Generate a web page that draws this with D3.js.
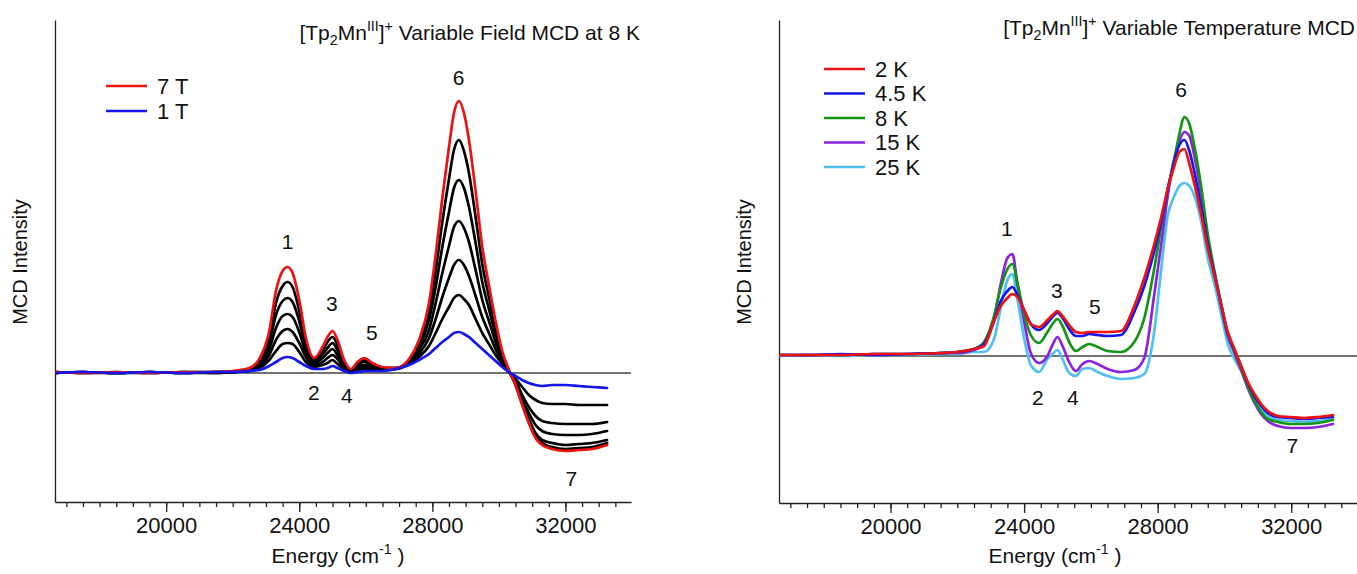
<!DOCTYPE html>
<html>
<head>
<meta charset="utf-8" />
<title>MCD spectra</title>
<script src="https://d3js.org/d3.v7.min.js"></script>
<style>
  body { margin: 0; background: #fff; }
  svg text { font-family: "Liberation Sans", Arial, sans-serif; fill: #111; }
  .axis path, .axis line { stroke: #222; stroke-width: 1.3px; }
  .axis text { font-size: 22px; }
  .trace { fill: none; stroke-width: 2.7px; stroke-linejoin: round; stroke-linecap: round; }
</style>
</head>
<body>
<script>
// energy grid (cm-1) shared by all traces
const energy = [16700, 17500, 18500, 19500, 20500, 21500, 22000, 22500, 22800, 23100, 23300, 23500, 23650, 23800,
  24000, 24200, 24450, 24700, 24850, 25000, 25150, 25350, 25550, 25750, 25950, 26200, 26500, 26900, 27300, 27600,
  27900, 28100, 28300, 28500, 28650, 28800, 28950, 29100, 29300, 29500, 29700, 29900, 30100, 30300, 30500, 30700,
  30900, 31100, 31300, 31600, 32000, 32400, 32800, 33250];

// variable field at 8 K (arbitrary MCD units)
const field7T = [1,0,1,0,1,1,2,5, 14,42,82,102,106,100,73,35, 15,26,36,42,33,13,4,11, 15,10,6,5,14,33,70,118,
  175,226,260,272,260,233,182,126, 88,52,22,3,-12,-32,-50,-65, -72,-76,-78,-77,-76,-72];
const field6T = [0,1,0,1,0,1,1,4, 12,36,70,87,91,86,62,30, 13,22,31,36,28,11,3,9, 13,9,5,5,13,30,61,102,
  151,194,223,233,222,200,156,109, 76,45,19,3,-12,-31,-49,-63, -70,-74,-76,-75,-74,-70];
const field5T = [1,0,1,0,1,0,1,3, 10,30,58,72,75,71,52,25, 11,19,25,30,23,9,3,8, 11,7,5,5,12,26,53,86,
  126,161,185,193,185,166,130,91, 64,38,17,2,-11,-30,-46,-60, -67,-70,-72,-71,-70,-67];
const field4T = [0,1,0,0,1,1,1,3, 8,24,45,57,59,56,41,20, 9,15,20,24,18,7,2,6, 8,6,4,4,11,23,43,70,
  100,127,146,152,145,131,103,73, 52,31,14,2,-10,-26,-40,-52, -58,-61,-62,-62,-61,-58];
const field3T = [1,0,0,1,0,1,1,2, 6,18,33,42,44,41,30,16, 7,11,15,18,14,5,1,4, 6,4,3,4,10,19,35,54,
  76,95,108,113,108,97,77,56, 40,24,11,1,-8,-22,-34,-43, -48,-50,-51,-51,-51,-49];
const field2T = [0,1,0,1,0,0,1,2, 5,13,22,29,30,29,21,11, 6,8,10,13,9,4,1,3, 4,3,3,4,9,16,27,40,
  54,66,75,78,74,68,54,40, 29,18,9,1,-6,-14,-22,-27, -30,-31,-31,-32,-32,-32];
const field1T = [0,1,0,1,0,1,1,2, 3,7,11,15,16,15,11,7, 4,4,5,7,5,2,0,1, 2,2,2,4,8,13,19,25,
  31,36,40,41,39,36,30,24, 18,12,6,1,-3,-7,-10,-12, -13,-12,-12,-13,-14,-15];

// variable temperature
const temp2K = [1,1,1,2,2,3,4,7, 10,35,50,58,62,59,46,32, 29,36,41,45,40,31,24,23, 24,24,24,25,50,78,112,138,
  167,190,204,207,192,172,142,108, 80,52,24,7,-10,-26,-38,-48, -55,-60,-61,-62,-61,-59];
const temp4_5K = [1,1,2,1,2,3,4,7, 12,35,55,65,69,61,46,32, 26,33,39,43,38,27,20,20, 22,21,20,21,44,70,105,133,
  166,195,211,216,205,184,150,112, 82,52,23,6,-10,-27,-40,-50, -57,-61,-62,-63,-62,-61];
const temp8K = [1,1,1,2,2,3,4,7, 14,40,68,87,92,73,42,21, 13,24,32,37,30,14,5,9, 12,9,5,4,14,38,88,128,
  167,197,222,239,232,210,170,122, 85,52,22,5,-12,-30,-45,-56, -63,-66,-68,-68,-67,-64];
const temp15K = [1,1,1,2,2,3,3,6, 12,38,72,98,102,72,35,3, -7,0,11,19,10,-6,-15,-8, -5,-8,-13,-16,-14,-2,62,110,
  160,198,215,224,220,200,163,118, 83,50,20,3,-14,-32,-47,-58, -65,-70,-72,-72,-71,-68];
const temp25K = [0,1,0,1,1,2,2,4, 4,17,48,76,82,57,18,-9, -16,-3,2,6,-3,-17,-20,-13, -12,-16,-20,-23,-22,-18,25,85,
  140,160,170,173,170,160,135,98, 72,42,12,-3,-15,-30,-43,-53, -60,-64,-65,-66,-65,-63];

const majorTicks = [20000, 24000, 28000, 32000];
const peakNames = ["1", "2", "3", "4", "5", "6", "7"];
const fieldPeakE = [23650, 24440, 24980, 25430, 26180, 28790, 32180];
const fieldPeakV = [132, -19, 70, -22, 41, 296, -105];
const tempPeakE = [23480, 24410, 24980, 25460, 26120, 28700, 32030];
const tempPeakV = [128, -41, 66, -41, 50, 267, -89];

const W = 1357, H = 574;
const svg = d3.select('body').append('svg').attr('width', W).attr('height', H);

function richText(sel, parts, size) {
  let shift = 0;
  parts.forEach((p) => {
    const target = p.sub ? 5 : p.sup ? -9 : 0;
    sel.append('tspan')
      .attr('dy', target - shift)
      .style('font-size', (p.sub || p.sup ? size * 0.68 : size) + 'px')
      .text(p.t);
    shift = target;
  });
}

function drawPanel(cfg) {
  const x = d3.scaleLinear().domain([16660, 33970]).range([cfg.left, cfg.right]);
  const y = d3.scaleLinear()
    .domain([-(cfg.bottom - cfg.zero), cfg.zero - cfg.top])
    .range([cfg.bottom, cfg.top]);
  const g = svg.append('g');

  // zero line
  g.append('line')
    .attr('x1', x.range()[0]).attr('x2', x.range()[1])
    .attr('y1', y(0)).attr('y2', y(0))
    .attr('stroke', '#444').attr('stroke-width', 1.3);

  // minor ticks
  g.append('g').attr('class', 'axis')
    .attr('transform', `translate(0,${cfg.bottom})`)
    .call(d3.axisBottom(x).tickValues(d3.range(17000, 34000, 500)).tickSize(5).tickFormat(''))
    .select('.domain').remove();
  // major ticks + labels
  g.append('g').attr('class', 'axis')
    .attr('transform', `translate(0,${cfg.bottom})`)
    .call(d3.axisBottom(x).tickValues(majorTicks).tickSize(10).tickSizeOuter(0).tickPadding(5).tickFormat(d3.format('d')));
  g.append('g').attr('class', 'axis')
    .attr('transform', `translate(${cfg.left},0)`)
    .call(d3.axisLeft(y).tickValues([]).tickSizeOuter(0));

  const line = d3.line()
    .x((d, i) => x(energy[i]))
    .y((d) => y(d))
    .curve(d3.curveMonotoneX);

  cfg.series.forEach((s) => {
    g.append('path').datum(s.values).attr('class', 'trace').attr('stroke', s.color).attr('d', line);
  });

  // peak numbers
  cfg.peakE.forEach((e, i) => {
    g.append('text').attr('x', x(e)).attr('y', y(cfg.peakV[i]))
      .attr('text-anchor', 'middle').attr('dominant-baseline', 'central')
      .style('font-size', '21px').text(peakNames[i]);
  });

  // legend
  cfg.legend.forEach((s, i) => {
    const ly = cfg.legendY + i * cfg.legendStep;
    g.append('line').attr('x1', cfg.legendX).attr('x2', cfg.legendX + 41)
      .attr('y1', ly).attr('y2', ly).attr('stroke', s.color).attr('stroke-width', 2.7);
    g.append('text').attr('x', cfg.legendX + 51).attr('y', ly)
      .attr('dominant-baseline', 'central').style('font-size', '22px').text(s.name);
  });

  // title
  const t = g.append('text').attr('x', cfg.titleX).attr('y', cfg.titleY)
    .attr('text-anchor', 'end').style('font-size', '21px');
  richText(t, cfg.title, 21);

  // axis titles
  const xt = g.append('text').attr('x', (cfg.left + cfg.right) / 2 + cfg.xTitleOff).attr('y', 563)
    .attr('text-anchor', 'middle').style('font-size', '21px');
  richText(xt, [{ t: 'Energy (cm' }, { t: '-1', sup: true }, { t: ' )' }], 21);

  g.append('text')
    .attr('transform', `translate(${cfg.left - 35},262) rotate(-90)`)
    .attr('text-anchor', 'middle').attr('dominant-baseline', 'central')
    .style('font-size', '20px').text('MCD Intensity');
}

const red = '#ee1111', blue = '#1515ee';

drawPanel({
  left: 55, right: 631, top: 20, bottom: 502, zero: 373,
  series: [
    { values: field2T, color: '#000' },
    { values: field3T, color: '#000' },
    { values: field4T, color: '#000' },
    { values: field5T, color: '#000' },
    { values: field6T, color: '#000' },
    { values: field7T, color: red },
    { values: field1T, color: blue }
  ],
  legend: [{ name: '7 T', color: red }, { name: '1 T', color: blue }],
  legendX: 106, legendY: 86, legendStep: 25,
  peakE: fieldPeakE, peakV: fieldPeakV,
  title: [{ t: '[Tp' }, { t: '2', sub: true }, { t: 'Mn' }, { t: 'III', sup: true }, { t: ']' }, { t: '+', sup: true }, { t: ' Variable Field MCD at 8 K' }],
  titleX: 640, titleY: 40, xTitleOff: -5
});

drawPanel({
  left: 779, right: 1357, top: 20, bottom: 503, zero: 356,
  series: [
    { values: temp25K, color: '#4ec0f4' },
    { values: temp15K, color: '#8b22e0' },
    { values: temp8K, color: '#149414' },
    { values: temp4_5K, color: blue },
    { values: temp2K, color: red }
  ],
  legend: [
    { name: '2 K', color: red },
    { name: '4.5 K', color: blue },
    { name: '8 K', color: '#149414' },
    { name: '15 K', color: '#8b22e0' },
    { name: '25 K', color: '#4ec0f4' }
  ],
  legendX: 824, legendY: 69, legendStep: 24.5,
  peakE: tempPeakE, peakV: tempPeakV,
  title: [{ t: '[Tp' }, { t: '2', sub: true }, { t: 'Mn' }, { t: 'III', sup: true }, { t: ']' }, { t: '+', sup: true }, { t: ' Variable Temperature MCD' }],
  titleX: 1355, titleY: 35, xTitleOff: -13
});
</script>
</body>
</html>
